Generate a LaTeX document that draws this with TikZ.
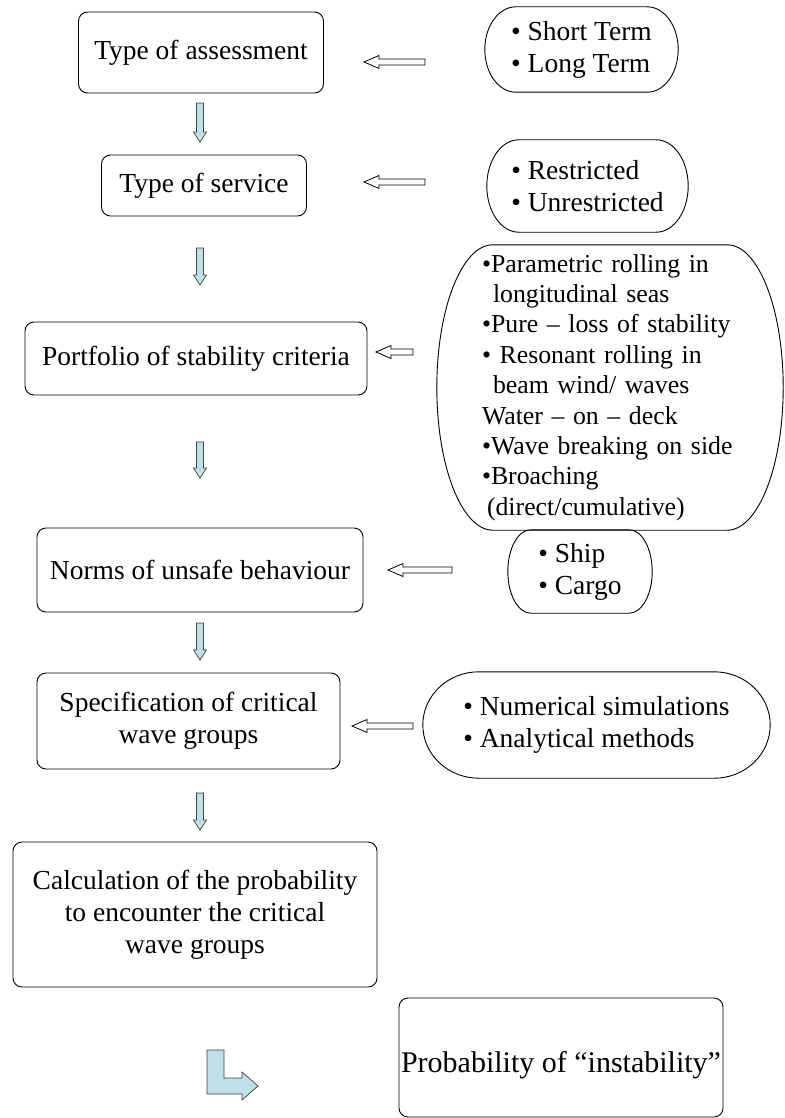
\documentclass[tikz,border=0pt]{standalone}
\usepackage{fontspec}
\setmainfont{Liberation Serif}
\usetikzlibrary{calc}
\definecolor{arrowblue}{RGB}{190,224,230}

\tikzset{
  box/.style={draw, rounded corners=9pt, line width=0.9pt, inner sep=0pt, align=center},
  termbox/.style={inner sep=0pt, align=left},
  termline/.style={line width=0.9pt},
  downblock/.style={draw=black!75, fill=arrowblue, line width=0.7pt},
  leftblock/.style={draw=black, fill=white, line width=0.8pt}
}

% frame of a terminator shape: node name, end radius (pt)
\newcommand{\termframe}[2]{%
  \draw[termline] let \p1=(#1.north west), \p2=(#1.south east), \n1={0.5*(\y1-\y2)} in
    (\x1+#2pt,\y1) -- (\x2-#2pt,\y1)
    arc[start angle=90, end angle=-90, x radius=#2pt, y radius=\n1]
    -- (\x1+#2pt,\y2)
    arc[start angle=270, end angle=90, x radius=#2pt, y radius=\n1] -- cycle;}
% hollow block arrow pointing left: tip x, tail x, y
\newcommand{\leftarr}[3]{%
  \draw[leftblock] (#1,#3) -- (#1+15,#3+6.5) -- (#1+15,#3+3) -- (#2,#3+3)
    -- (#2,#3-3) -- (#1+15,#3-3) -- (#1+15,#3-6.5) -- cycle;}

\begin{document}
\begin{tikzpicture}[x=1pt,y=1pt,font=\fontsize{27.5}{32}\selectfont]
  \useasboundingbox (0,0) rectangle (784,-1118);

  % main chain
  \node[box, minimum width=245, minimum height=81] (assess) at (201,-52.5) {Type of assessment};
  \node[box, minimum width=205, minimum height=61] (service) at (204,-185.5) {Type of service};
  \node[box, minimum width=342, minimum height=73] (portfolio) at (196,-358.5) {Portfolio of stability criteria};
  \node[box, minimum width=326, minimum height=84] (norms) at (200,-570) {Norms of unsafe behaviour};
  \node[box, minimum width=303, minimum height=96] (spec) at (188.5,-721) {Specification of critical\\wave groups};
  \node[box, minimum width=364, minimum height=145] (probcalc) at (195,-914.5)
    {Calculation of the probability\\to encounter the critical\\wave groups};
  \node[box, minimum width=324, minimum height=119, font=\fontsize{30}{34}\selectfont] (prob)
    at (561,-1057.5) {\raisebox{-8pt}[21pt][6.5pt]{Probability of “instability”}};

  % inputs on the right
  \node[termbox, minimum width=193, minimum height=85] (terms) at (581.5,-49.5) {• Short Term\\• Long Term};
  \node[termbox, minimum width=201, minimum height=92] (services) at (587.5,-186) {• Restricted\\• Unrestricted};
  \node[termbox, minimum width=346, minimum height=285, text width=256,
        font=\fontsize{25.8}{30.4}\selectfont] (modes) at (610,-387.5)
    {•Parametric rolling in\\
     \hspace*{11pt}longitudinal seas\\
     •Pure – loss of stability\\
     • Resonant rolling in\\
     \hspace*{11pt}beam wind/ waves\\
     Water – on – deck\\
     •Wave breaking on side\\
     •Broaching\\
     \hspace*{5pt}(direct/cumulative)};
  \node[termbox, minimum width=144, minimum height=83] (cargo) at (580,-571.5) {• Ship\\• Cargo};
  \node[termbox, minimum width=347, minimum height=106] (methods) at (596.5,-725)
    {• Numerical simulations\\• Analytical methods};

  \termframe{terms}{31}
  \termframe{services}{32}
  \termframe{modes}{56}
  \termframe{cargo}{23}
  \termframe{methods}{56}

  % block arrows
  \leftarr{364}{425}{-62}
  \leftarr{364}{425}{-182}
  \leftarr{376}{413}{-352}
  \leftarr{388}{452}{-570}
  \leftarr{352}{413}{-726}
  \foreach \ya/\yb in {103/142,248/285,442/478,623/660,793/830}
    \draw[downblock] (196.5,-\ya) -- (203.5,-\ya) -- (203.5,-\yb+10) -- (206.5,-\yb+10)
      -- (200,-\yb) -- (193.5,-\yb+10) -- (196.5,-\yb+10) -- cycle;
  \draw[downblock] (207,-1050) -- (224,-1050) -- (224,-1078) -- (242,-1078) -- (242,-1072)
    -- (258,-1086) -- (242,-1100) -- (242,-1094) -- (207,-1094) -- cycle;
\end{tikzpicture}
\end{document}
